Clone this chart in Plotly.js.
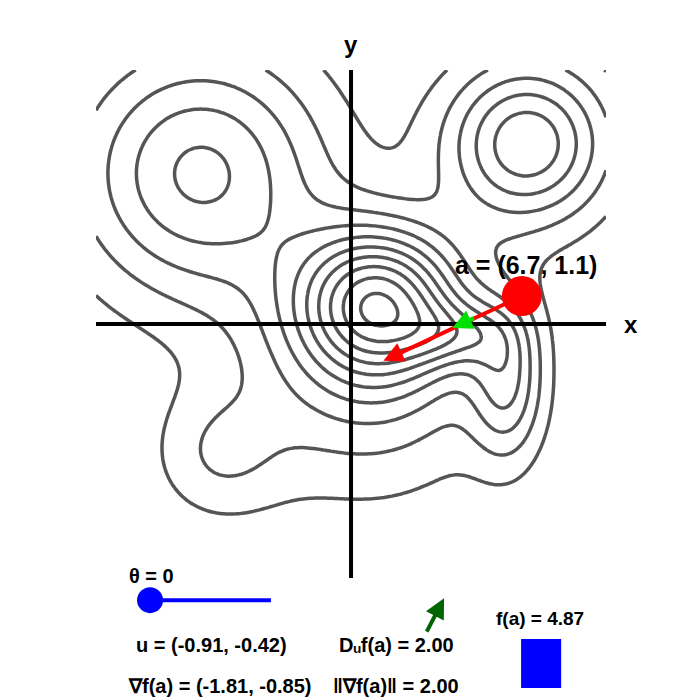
<!DOCTYPE html>
<html><head><meta charset="utf-8">
<script src="https://cdn.plot.ly/plotly-3.0.1.min.js"></script>
<style>body{margin:0;background:#fff}#chart{width:700px;height:700px}</style>
</head><body><div id="chart"></div>
<script>
// Surface f(x,y) as a sum of Gaussian bumps (centres, heights, spreads)
const bumpX   = [1.1, 0.5, -5.9, 6.9, 4.2, 6.1, -5.2];
const bumpY   = [0.85, -2.0, 5.95, 7.1, -0.4, -2.2, -5.2];
const bumpAmp = [8.0, 2.9, 5.2, 5.8, 2.5, 3.5, 1.7];
const bumpSx  = [2.2, 3.6, 3.46, 2.24, 1.4, 1.0, 1.8];
const bumpSy  = [2.05, 3.33, 3.46, 2.24, 0.9, 2.2, 1.8];
const contourLevels = {start: 1, end: 10, size: 1};

// Readouts
const pointA = [6.7, 1.1];
const gradA = [-1.81, -0.85];
const dirU = [-0.91, -0.42];
const theta = 0;
const fA = 4.87;
const dirDeriv = 2.00;
const gradNorm = 2.00;

const N = 201;
const gx = [], gy = [];
for (let i = 0; i < N; i++) { gx.push(-10 + 20 * i / (N - 1)); gy.push(-10 + 20 * i / (N - 1)); }
function f(x, y) {
  let s = 0;
  for (let k = 0; k < bumpX.length; k++) {
    const dx = x - bumpX[k], dy = y - bumpY[k];
    s += bumpAmp[k] * Math.exp(-(dx*dx/(2*bumpSx[k]*bumpSx[k]) + dy*dy/(2*bumpSy[k]*bumpSy[k])));
  }
  return s;
}
const z = gy.map(y => gx.map(x => f(x, y)));

const FONT = 'Liberation Sans, Arial, Helvetica, sans-serif';
const scale = 3;
const redTip = [pointA[0] + scale*gradA[0], pointA[1] + scale*gradA[1]];
const greenTip = [pointA[0] + scale*dirU[0], pointA[1] + scale*dirU[1]];
const greenTail = [greenTip[0] - 1.0*dirU[0], greenTip[1] - 1.0*dirU[1]];
const GREY = '#555555';

const traces = [
  {type:'contour', x: gx, y: gy, z: z, showscale:false, hoverinfo:'skip',
   autocontour:false, contours: Object.assign({coloring:'lines', showlabels:false}, contourLevels),
   colorscale:[[0, GREY],[1, GREY]],
   line:{color:GREY, width:3.5, smoothing:1.0}},
  {type:'scatter', mode:'lines', x:[-10,10], y:[0,0], line:{color:'#000', width:4}, hoverinfo:'skip'},
  {type:'scatter', mode:'lines', x:[0,0], y:[-10,10], line:{color:'#000', width:4}, hoverinfo:'skip'},
  {type:'scatter', mode:'markers', x:[pointA[0]], y:[pointA[1]], marker:{color:'#ff0000', size:40}, hoverinfo:'skip'},
  {type:'scatter', mode:'lines', x:[-7.88,-3.14], y:[-10.87,-10.87], line:{color:'#0000ff', width:4}, hoverinfo:'skip'},
  {type:'scatter', mode:'markers', x:[-7.88], y:[-10.87], marker:{color:'#0000ff', size:26}, hoverinfo:'skip'}
];

function txt(x, y, text, size) {
  return {x:x, y:y, xref:'x', yref:'y', text:text, showarrow:false,
          font:{family:FONT, size:size, color:'#000', weight:'bold'}, xanchor:'center', yanchor:'middle'};
}
const f2 = v => v.toFixed(2);
const annotations = [
  {x:redTip[0], y:redTip[1], ax:pointA[0], ay:pointA[1], xref:'x', yref:'y', axref:'x', ayref:'y',
   text:'', showarrow:true, arrowhead:2, arrowsize:1, arrowwidth:4, arrowcolor:'#ff0000'},
  {x:greenTip[0], y:greenTip[1], ax:greenTail[0], ay:greenTail[1], xref:'x', yref:'y', axref:'x', ayref:'y',
   text:'', showarrow:true, arrowhead:2, arrowsize:1, arrowwidth:4, arrowcolor:'#00e000'},
  {x:3.65, y:-10.79, ax:2.94, ay:-12.17, xref:'x', yref:'y', axref:'x', ayref:'y',
   text:'', showarrow:true, arrowhead:2, arrowsize:1, arrowwidth:4, arrowcolor:'#006400'},
  txt(10.98, 0, 'x', 24),
  txt(0, 11.0, 'y', 24),
  txt(6.86, 2.32, 'a = (' + pointA[0].toFixed(1) + ', ' + pointA[1].toFixed(1) + ')', 25),
  txt(-7.84, -9.9, 'θ = ' + theta, 20),
  txt(-5.49, -12.64, 'u = (' + f2(dirU[0]) + ', ' + f2(dirU[1]) + ')', 20),
  txt(-5.14, -14.25, '∇f(a) = (' + f2(gradA[0]) + ', ' + f2(gradA[1]) + ')', 20),
  txt(1.78, -12.64, 'Dᵤf(a) = ' + f2(dirDeriv), 20),
  txt(1.78, -14.25, '‖∇f(a)‖ = ' + f2(gradNorm), 20),
  txt(7.41, -11.61, 'f(a) = ' + f2(fA), 19)
];

const layout = {
  width:700, height:700, margin:{l:0, r:0, t:0, b:0},
  paper_bgcolor:'#fff', plot_bgcolor:'#fff', showlegend:false,
  xaxis:{range:[-13.765, 13.686], visible:false, fixedrange:true},
  yaxis:{range:[-14.8, 12.756], visible:false, fixedrange:true},
  shapes:[{type:'rect', xref:'x', yref:'y', x0:6.67, x1:8.24, y0:-14.33, y1:-12.4,
           fillcolor:'#0000ff', line:{width:0}}],
  annotations: annotations
};
Plotly.newPlot('chart', traces, layout, {staticPlot:true, displayModeBar:false});
</script></body></html>
